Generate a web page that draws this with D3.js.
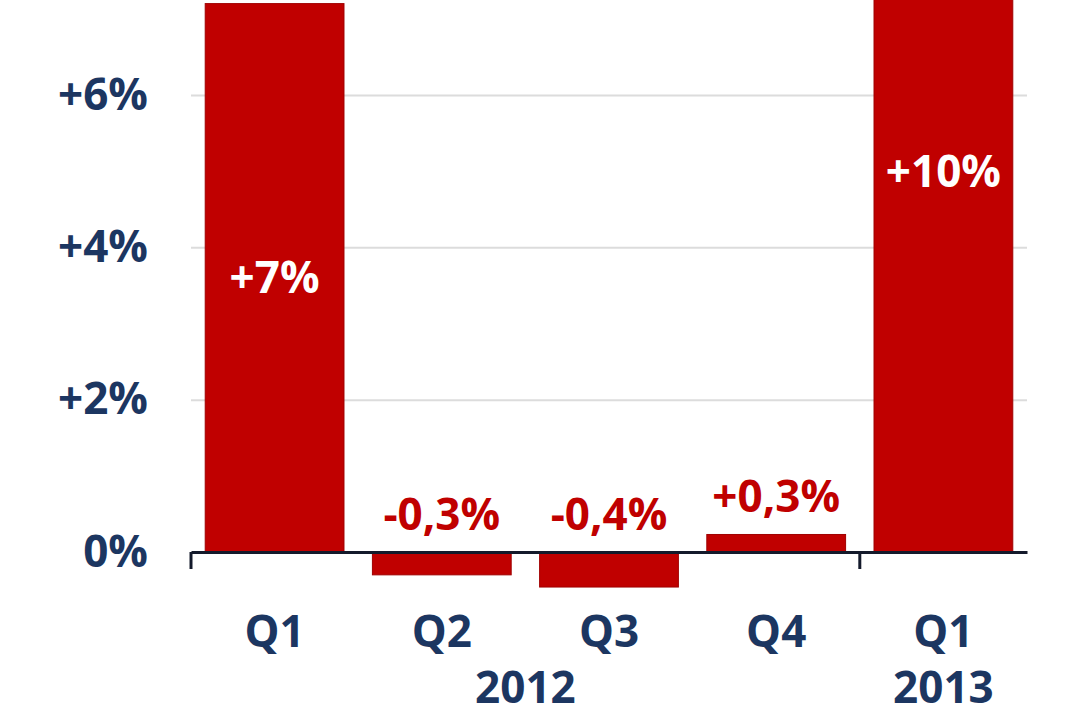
<!DOCTYPE html>
<html>
<head>
<meta charset="utf-8">
<script src="https://cdn.jsdelivr.net/npm/d3@7"></script>
<style>
  html, body { margin: 0; padding: 0; background: #fff; }
  #chart { width: 1080px; height: 720px; overflow: hidden; }
  text { font-family: "Open Sans", sans-serif; font-weight: bold; }
</style>
</head>
<body>
<div id="chart"></div>
<script>
var quarters = ["Q1 2012", "Q2 2012", "Q3 2012", "Q4 2012", "Q1 2013"];
var quarterLabels = ["Q1", "Q2", "Q3", "Q4", "Q1"];
var values = [7.2, -0.3, -0.46, 0.23, 10.0];
var valueLabels = ["+7%", "-0,3%", "-0,4%", "+0,3%", "+10%"];
var yTicks = [0, 2, 4, 6];
var years = [
  { label: "2012", first: 0, last: 3 },
  { label: "2013", first: 4, last: 4 }
];

var width = 1080, height = 720;
var navy = "#1c3661";
var red = "#c00000";

var svg = d3.select("#chart")
  .append("svg")
  .attr("width", width)
  .attr("height", height);

var x = d3.scaleBand()
  .domain(quarters)
  .range([191, 1027])
  .paddingInner(0.17)
  .paddingOuter(0.085);

var y = d3.scaleLinear()
  .domain([0, 6])
  .range([552, 95]);

// grid lines
svg.append("g")
  .attr("transform", "translate(191,0)")
  .call(d3.axisLeft(y).tickValues(yTicks.filter(d => d > 0)).tickSize(-(1027 - 191)).tickFormat(() => ""))
  .call(g => g.select(".domain").remove())
  .selectAll("line")
  .attr("stroke", "#dcdcdc")
  .attr("stroke-width", 2);

// y labels
svg.append("g")
  .attr("transform", "translate(191,0)")
  .call(d3.axisLeft(y).tickValues(yTicks).tickSize(0).tickPadding(43)
    .tickFormat(d => (d === 0 ? "" : "+") + d + "%"))
  .call(g => g.select(".domain").remove())
  .selectAll("text")
  .attr("fill", navy)
  .attr("font-size", 44);

// bars
svg.append("g")
  .selectAll("rect")
  .data(values)
  .join("rect")
  .attr("x", (d, i) => x(quarters[i]))
  .attr("width", x.bandwidth())
  .attr("y", d => y(Math.max(d, 0)))
  .attr("height", d => Math.abs(y(d) - y(0)))
  .attr("fill", red)
  .attr("stroke", "#a00000")
  .attr("stroke-width", 1);

// bar labels: inside (centred) for big bars, above the axis for small ones
svg.append("g")
  .selectAll("text")
  .data(values)
  .join("text")
  .attr("x", (d, i) => x(quarters[i]) + x.bandwidth() / 2)
  .attr("y", d => Math.abs(d) > 2 ? (y(d) + y(0)) / 2 : y(Math.max(d, 0)) - 22)
  .attr("dy", d => Math.abs(d) > 2 ? "0.35em" : 0)
  .attr("text-anchor", "middle")
  .attr("font-size", 44)
  .attr("fill", d => Math.abs(d) > 2 ? "#fff" : red)
  .text((d, i) => valueLabels[i]);

// x axis
var xAxis = svg.append("g")
  .attr("transform", "translate(0," + y(0) + ")")
  .call(d3.axisBottom(x).tickSize(0).tickSizeOuter(0).tickPadding(64)
    .tickFormat((d, i) => quarterLabels[i]));
xAxis.select(".domain")
  .attr("stroke", "#141a2b")
  .attr("stroke-width", 3);
xAxis.selectAll("text")
  .attr("fill", navy)
  .attr("font-size", 44);

// group separators
var seps = [x.range()[0], x(quarters[4]) - x.step() * x.paddingInner() / 2];
svg.append("g")
  .selectAll("line")
  .data(seps)
  .join("line")
  .attr("x1", d => d)
  .attr("x2", d => d)
  .attr("y1", y(0))
  .attr("y2", y(0) + 17)
  .attr("stroke", "#141a2b")
  .attr("stroke-width", 3);

// years
svg.append("g")
  .selectAll("text")
  .data(years)
  .join("text")
  .attr("x", d => (x(quarters[d.first]) + x(quarters[d.last]) + x.bandwidth()) / 2)
  .attr("y", 703)
  .attr("text-anchor", "middle")
  .attr("font-size", 44)
  .attr("fill", navy)
  .text(d => d.label);
</script>
</body>
</html>
